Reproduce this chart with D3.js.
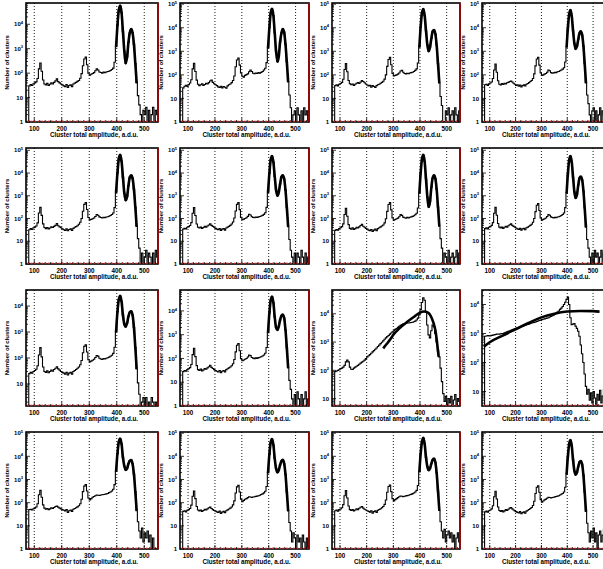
<!DOCTYPE html>
<html><head><meta charset="utf-8">
<script src="https://cdn.jsdelivr.net/npm/d3@7"></script>
<style>body{margin:0;background:#fff}svg{display:block}text{font-family:"Liberation Sans",Arial,sans-serif;font-weight:bold}</style>
</head><body><svg id="c" width="603" height="569"></svg>
<script>
// ---------- data ----------
const binStart = 75, binWidth = 5;
const xDomain = [70, 550];
const xTicks = [100, 200, 300, 400, 500];
const xTitle = "Cluster total amplitude, a.d.u.";
const yTitle = "Number of clusters";

const h0 = [0,30,34,31,37,40,44,60,150,260, 120,52,36,33,38,31,35,40,36,42, 48,58,45,40,36,33,30,28,34,26, 31,33,28,36,39,42,46,50,62,95, 200,380,450,220,100,82,90,96,105,125, 150,135,112,106,100,110,104,112,116,120, 128,140,160,280,1200,9000,38000,58000,30000,5000, 800,250,450,1800,4500,6300,4500,1500,250,40, 12,5,2,0,3,2,4,1,3,0, 2,4,1,3,2];
const h1 = [0,28,33,36,32,38,45,62,180,310, 140,60,40,35,38,42,36,39,44,41, 47,55,60,48,42,38,35,31,29,33, 28,32,30,27,34,38,41,47,58,90, 220,430,520,260,120,88,80,95,102,110, 135,160,140,118,112,120,115,125,118,128, 140,160,190,330,1400,10000,42000,63000,33000,6000, 1000,360,600,2500,6000,8900,6500,2000,350,50, 14,4,0,2,3,1,4,2,0,3, 1,4,2,3,1];
const h2 = [0,35,38,34,40,43,48,65,170,300, 135,58,42,38,41,36,40,44,47,43, 50,57,52,46,41,37,34,36,30,35, 32,29,35,38,40,44,48,54,66,100, 230,450,560,270,115,90,95,100,108,120, 145,155,130,115,110,118,112,120,125,130, 140,155,180,320,1500,11000,43000,62000,33000,7500, 1900,1000,1500,3500,7000,8000,5500,1800,300,45, 12,5,1,0,3,2,4,0,2,3, 1,4,2,0,3];
const h3 = [0,38,40,36,42,45,50,70,160,290, 130,56,40,37,43,39,44,41,46,48, 52,55,50,44,40,36,38,33,37,31, 35,38,34,40,43,47,52,58,70,110, 240,470,560,260,120,95,100,108,115,130, 160,150,125,118,122,130,125,135,140,150, 160,175,200,350,1500,10000,38000,56000,31000,7500, 2200,1260,1600,3200,6000,7000,5000,1700,300,45, 14,6,2,0,3,4,1,3,0,2, 4,1,3,2,0];
const h4 = [0,32,36,33,39,42,47,64,175,310, 138,58,40,36,40,35,38,43,40,45, 50,60,48,43,39,35,32,30,35,29, 33,35,30,37,41,44,48,56,68,100, 210,420,500,250,110,86,92,98,106,122, 150,140,118,110,105,114,108,116,120,126, 135,150,175,300,1400,10000,42000,63000,33000,6500, 1300,630,900,2800,6500,8000,5800,1900,320,45, 13,5,1,3,0,2,4,1,3,2, 0,3,1,4,2];
const h5 = [0,34,37,35,41,44,49,66,170,300, 135,57,41,38,42,37,40,45,42,47, 52,58,50,45,41,37,34,32,36,30, 34,36,31,38,42,45,50,57,70,105, 215,420,500,245,112,88,94,100,108,124, 152,142,120,112,108,116,110,118,122,128, 138,152,178,310,1400,9500,38000,56000,30000,7000, 1800,1000,1400,3300,6800,8000,5600,1800,300,44, 12,4,2,0,3,1,3,2,0,4, 2,1,3,0,2];
const h6 = [0,30,33,31,36,39,44,58,150,280, 125,54,37,34,39,33,36,41,38,43, 49,56,46,41,37,34,31,29,33,27, 31,34,29,36,39,43,47,52,64,98, 205,410,500,240,105,84,90,97,104,120, 148,138,115,108,103,112,106,114,118,124, 132,146,170,290,1300,10000,42000,63000,32000,5500, 900,320,560,2300,6000,8000,5700,1900,320,46, 13,5,1,3,2,0,4,1,2,3, 0,2,4,1,3];
const h7 = [0,36,39,35,41,44,50,66,170,310, 140,60,42,38,42,37,41,45,42,48, 53,58,50,45,41,38,35,33,37,31, 35,37,32,39,42,46,50,56,68,100, 200,380,450,225,105,85,92,98,106,122, 148,140,118,110,106,114,108,116,120,126, 136,150,175,300,1300,9500,38000,56000,30000,6500, 1500,800,1100,2900,6000,7000,5000,1700,290,42, 12,5,2,0,3,1,4,2,3,0, 2,4,1,3,2];
const h8 = [0,25,28,26,30,33,37,50,130,250, 110,45,30,28,32,27,30,34,31,36, 40,46,38,34,30,28,26,24,28,22, 26,28,24,30,33,36,40,45,55,80, 160,280,320,170,85,70,76,82,90,105, 125,118,98,92,88,96,92,98,102,108, 116,128,150,260,1000,6000,18000,25000,15000,4500, 2000,1600,2200,4000,5800,6300,4500,1500,260,38, 11,4,0,2,3,1,3,0,2,1, 3,2,0,2,1];
const h9 = [0,28,31,29,34,37,41,56,145,270, 120,50,34,31,36,30,33,38,35,40, 45,52,42,38,34,31,29,27,31,25, 29,31,27,34,37,40,44,49,60,90, 190,360,420,210,98,80,86,92,100,116, 140,132,110,103,98,106,101,108,112,118, 126,140,165,290,1200,8000,28000,40000,22000,5500, 2000,1600,2200,4200,6300,7000,5000,1600,280,40, 12,5,2,0,3,1,4,2,0,3, 1,2,4,0,2];
const h10 = [0,90,95,100,105,115,120,130,150,200, 230,200,130,110,108,120,130,140,150,165, 180,195,210,230,260,300,330,360,400,450, 500,560,620,700,780,880,980,1100,1250,1400, 1550,1700,1900,2100,2300,2500,2800,3000,3300,3600, 3900,4200,4400,4500,4600,4700,4700,4800,4900,5000, 5200,5500,6000,7000,9000,14000,25000,37000,30000,12000, 4000,1800,1400,2500,4000,3500,2000,1000,500,300, 120,40,15,8,12,6,10,7,12,5, 9,14,6,10,8];
const h11 = [0,800,820,850,830,830,860,880,900,920, 950,960,950,980,1000,1000,1050,1100,1150,1200, 1250,1300,1350,1400,1450,1500,1550,1600,1700,1750, 1800,1850,1900,2000,2050,2100,2200,2300,2350,2400, 2500,2600,2700,2800,2900,3000,3100,3200,3300,3400, 3500,3700,3900,4100,4300,4500,5000,5500,6000,6800, 7500,8500,10000,12000,15000,18000,10000,3500,2000,2100, 2200,1800,1500,1200,800,400,200,100,40,15, 8,12,5,9,4,10,6,3,8,5, 11,4,7,12,6];
const h12 = [0,50,52,48,55,58,65,90,220,340, 170,80,58,52,56,50,54,60,56,62, 68,72,64,58,54,50,47,44,50,38, 45,48,42,52,56,60,66,74,90,140, 300,520,600,320,160,130,150,170,185,200, 215,210,205,215,220,225,230,240,250,270, 290,320,380,600,2200,13000,42000,59000,34000,9000, 3800,2600,3000,4800,6500,6900,4800,1700,300,45, 15,6,3,8,2,5,3,6,2,4, 1,3,0,0,0];
const h13 = [0,42,45,40,47,50,56,78,190,320, 150,68,48,44,48,42,46,52,48,54, 60,64,56,50,46,43,40,38,43,34, 39,42,37,45,49,53,58,65,80,120, 260,480,560,290,140,110,125,140,150,165, 180,175,168,175,180,186,192,200,210,225, 240,265,310,500,1900,12000,40000,56000,31000,8000, 3000,2000,2500,4300,6200,7000,4900,1700,290,44, 14,6,2,5,3,0,4,2,3,1, 4,2,0,3,1];
const h14 = [0,45,48,43,50,53,60,82,200,330, 160,72,50,46,50,44,48,55,50,57, 63,68,58,52,48,45,42,39,45,35, 41,44,38,47,51,55,60,68,84,130, 280,500,580,300,150,120,135,150,165,180, 195,190,182,190,196,202,208,218,228,245, 260,290,340,550,2100,13000,44000,63000,34000,9000, 3600,2500,3000,4800,7000,8000,5500,1900,320,46, 15,6,3,7,2,4,6,3,5,2, 4,1,3,5,2];
const h15 = [0,40,43,39,45,48,54,74,180,310, 145,65,46,42,46,40,44,50,46,52, 58,62,54,48,44,41,38,36,41,33, 37,40,35,43,47,51,56,62,76,115, 250,460,540,280,135,105,118,132,142,156, 170,166,160,166,172,178,184,192,200,215, 230,250,290,460,1700,10000,35000,50000,28000,7000, 2400,1600,2000,3600,5600,6300,4500,1600,280,42, 13,5,2,6,3,8,2,5,1,4, 6,2,4,7,3];

// log10 of y-axis min / max for each panel
const yLogRanges = [[0,4.87],[0,5.05],[0,5.05],[0,5.05],[0,5.1],[0,5.1],[0,5.1],[0,5.1],[0.15,4.62],[0,4.88],[0.74,4.84],[0.5,4.5],[0,5.05],[0,5.05],[0,5.05],[0,5.05]];
// fitted curves (x, count)
const fit10 = [[262,600],[275,850],[290,1300],[300,1800],[325,3200],[350,5000],[375,7500],[400,11000],[415,12000],[430,11000],[440,8500],[450,5000],[458,2500],[465,800],[470,300]];
const fit11 = [[77,350],[100,500],[150,850],[200,1400],[250,2300],[300,3600],[350,4800],[400,5700],[450,6000],[500,5900],[525,5700]];
const peakFitRange = [64, 79]; // bins covered by the peak fit in standard panels

const panels = [h0,h1,h2,h3,h4,h5,h6,h7,h8,h9,h10,h11,h12,h13,h14,h15];
const customFits = {10: fit10, 11: fit11};

// ---------- layout ----------
const colLeft = [26, 180, 332, 482], colWidth = [132, 129, 128, 124];
const rowTop = [3, 148, 290, 432], rowBottom = [122, 264, 406, 549];

const svg = d3.select("#c");
const defs = svg.append("defs");

panels.forEach((h, k) => {
  const r = Math.floor(k / 4), c = k % 4;
  const L = colLeft[c], R = L + colWidth[c], T = rowTop[r], B = rowBottom[r];
  const x = d3.scaleLinear().domain(xDomain).range([L, R]);
  const [lo, hi] = yLogRanges[k];
  const ymin = Math.pow(10, lo), ymax = Math.pow(10, hi);
  const y = d3.scaleLog().domain([ymin, ymax]).range([B, T]);
  const yy = v => y(Math.max(v, ymin));
  const g = svg.append("g");

  defs.append("clipPath").attr("id", "clip" + k).append("rect")
    .attr("x", L).attr("y", T).attr("width", R - L).attr("height", B - T);

  // vertical dotted grid
  g.selectAll(".grid").data(xTicks).enter().append("line")
    .attr("x1", d => x(d)).attr("x2", d => x(d)).attr("y1", T).attr("y2", B)
    .attr("stroke", "#000").attr("stroke-width", 0.9).attr("stroke-dasharray", "1,2");

  // histogram
  const pts = h.map((v, i) => [binStart + i * binWidth, v]);
  pts.push([binStart + h.length * binWidth, h[h.length - 1]]);
  const step = d3.line().x(d => x(d[0])).y(d => yy(d[1])).curve(d3.curveStepAfter);
  g.append("path").attr("d", step(pts)).attr("fill", "none").attr("stroke", "#000")
    .attr("stroke-width", 1.1).attr("clip-path", `url(#clip${k})`);

  // fits
  const smooth = d3.line().x(d => x(d[0])).y(d => yy(d[1])).curve(d3.curveMonotoneX);
  if (customFits[k]) {
    g.append("path").attr("d", smooth(customFits[k])).attr("fill", "none").attr("stroke", "#000")
      .attr("stroke-width", 2.6).attr("clip-path", `url(#clip${k})`);
  } else {
    const fp = [];
    for (let i = peakFitRange[0]; i <= peakFitRange[1]; i++) fp.push([binStart + (i + 0.5) * binWidth, h[i]]);
    g.append("path").attr("d", smooth(fp)).attr("fill", "none").attr("stroke", "#000")
      .attr("stroke-width", 2.6).attr("stroke-linejoin", "round").attr("clip-path", `url(#clip${k})`);
  }

  // x ticks
  const minor = d3.range(80, 550, 20);
  g.selectAll(".xmin").data(minor).enter().append("line")
    .attr("x1", d => x(d)).attr("x2", d => x(d)).attr("y1", B).attr("y2", d => B - (d % 100 === 0 ? 4 : 2))
    .attr("stroke", "#000").attr("stroke-width", 0.8);
  g.selectAll(".xl").data(xTicks).enter().append("text")
    .attr("x", d => x(d)).attr("y", B + 8.5).attr("text-anchor", "middle")
    .attr("font-size", 6.3).text(d => d);
  g.append("text").attr("x", (L + R) / 2 + 2).attr("y", B + 15).attr("text-anchor", "middle")
    .attr("font-size", 6.3).text(xTitle);

  // y ticks (log)
  for (let e = Math.floor(lo); e <= Math.ceil(hi); e++) {
    for (let m = 1; m <= 9; m++) {
      const v = m * Math.pow(10, e);
      if (v < ymin * 0.999 || v > ymax * 1.001) continue;
      g.append("line").attr("x1", L).attr("x2", L + (m === 1 ? 4 : 2))
        .attr("y1", y(v)).attr("y2", y(v)).attr("stroke", "#000").attr("stroke-width", 0.8);
      if (m === 1) {
        const t = g.append("text").attr("x", L - 3).attr("y", y(v) + 2.2)
          .attr("text-anchor", "end").attr("font-size", 6);
        if (e === 0) t.text("1");
        else if (e === 1) t.text("10");
        else { t.append("tspan").text("10"); t.append("tspan").attr("dy", -2.5).attr("font-size", 4).text(e); }
      }
    }
  }
  g.append("text").attr("transform", `translate(${L - 17},${(T + B) / 2}) rotate(-90)`)
    .attr("text-anchor", "middle").attr("font-size", 6).text(yTitle);

  // frame
  g.append("rect").attr("x", L).attr("y", T).attr("width", R - L).attr("height", B - T)
    .attr("fill", "none").attr("stroke", "#000").attr("stroke-width", 1.6);
  g.append("line").attr("x1", R).attr("x2", R).attr("y1", T).attr("y2", B)
    .attr("stroke", "#a40000").attr("stroke-width", 1.6);
  g.append("line").attr("x1", L + 1).attr("x2", R - 1).attr("y1", B - 0.8).attr("y2", B - 0.8)
    .attr("stroke", "#e03030").attr("stroke-width", 1).attr("stroke-dasharray", "2,1.5");
});
</script></body></html>
